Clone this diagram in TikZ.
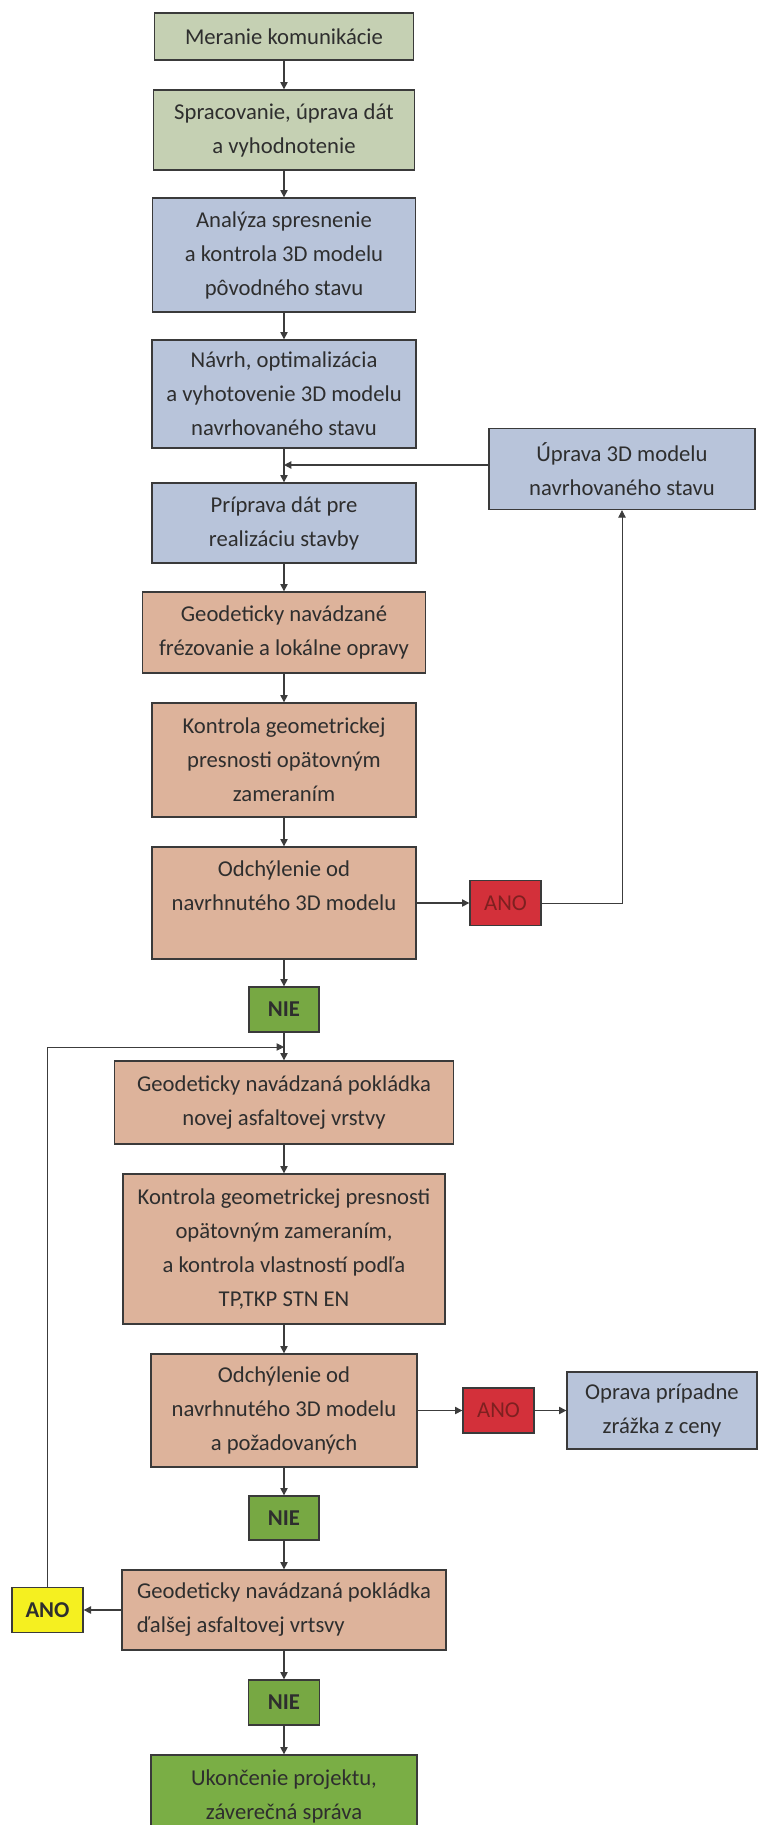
\documentclass[tikz,border=0pt]{standalone}
\usepackage{fontspec}
\setmainfont{Carlito}
\usetikzlibrary{arrows.meta}
\definecolor{sage}{HTML}{C5D0B3}
\definecolor{blu}{HTML}{B8C4DA}
\definecolor{sal}{HTML}{DDB39B}
\definecolor{redb}{HTML}{D3303A}
\definecolor{nieg}{HTML}{77A843}
\definecolor{yel}{HTML}{F5F020}
\definecolor{endg}{HTML}{7AAE45}
\definecolor{edge}{HTML}{3A3A3A}
\definecolor{lin}{HTML}{3C3C3C}
\definecolor{txt}{HTML}{2E2E2E}
\definecolor{anotxt}{HTML}{7E2020}
\begin{document}
\begin{tikzpicture}[x=0.75pt,y=-0.75pt,
  box/.style={draw=edge, line width=1pt, align=center, inner sep=0pt, text=txt,
    font=\fontsize{17}{25.5}\selectfont},
  sz/.style 2 args={minimum width=#1*0.75pt, minimum height=#2*0.75pt},
  arr/.style={draw=lin, line width=0.9pt, -{Triangle[length=5.5pt,width=5.5pt]}},
  ln/.style={draw=lin, line width=0.9pt},
  fb/.style={draw=lin, line width=0.6pt, -{Triangle[length=5.5pt,width=5.5pt]}}]
\clip (0,0) rectangle (761,1825);
\fill[white] (0,0) rectangle (761,1825);

\node[box, fill=sage, sz={259}{47}] (b1) at (284,36.5) {Meranie komunikácie};
\node[box, fill=sage, sz={261}{80}] (b2) at (284,130) {Spracovanie, úprava dát\\a vyhodnotenie};
\node[box, fill=blu, sz={263}{114}] (b3) at (284,255) {Analýza spresnenie\\a kontrola 3D modelu\\pôvodného stavu};
\node[box, fill=blu, sz={264}{108}] (b4) at (284,394) {Návrh, optimalizácia\\a vyhotovenie 3D modelu\\navrhovaného stavu};
\coordinate (j1) at (284,465);
\node[box, fill=blu, sz={264}{80}] (b5) at (284,523) {Príprava dát pre\\realizáciu stavby};
\node[box, fill=blu, sz={266}{81}] (upr) at (622,469) {Úprava 3D modelu\\navrhovaného stavu};
\node[box, fill=sal, sz={283}{81}] (b6) at (284,632.5) {Geodeticky navádzané\\frézovanie a lokálne opravy};
\node[box, fill=sal, sz={264}{114}] (b7) at (284,760) {Kontrola geometrickej\\presnosti opätovným\\zameraním};
\node[box, fill=sal, sz={264}{112}] (b8) at (284,903) {Odchýlenie od\\navrhnutého 3D modelu\\\mbox{}};
\node[box, fill=redb, sz={71}{45}, text=anotxt] (ano1) at (505.5,903) {ANO};
\node[box, fill=nieg, sz={70}{45}, font=\fontsize{17}{25.5}\selectfont\bfseries] (nie1) at (284,1009.5) {NIE};
\coordinate (j2) at (284,1047);
\node[box, fill=sal, sz={339}{83}] (b9) at (284,1102.5) {Geodeticky navádzaná pokládka\\novej asfaltovej vrstvy};
\node[box, fill=sal, sz={322}{150}] (b10) at (284,1249) {Kontrola geometrickej presnosti\\opätovným zameraním,\\a kontrola vlastností podľa\\TP,TKP STN EN};
\node[box, fill=sal, sz={266}{113}] (b11) at (284,1410.5) {Odchýlenie od\\navrhnutého 3D modelu\\a požadovaných};
\node[box, fill=redb, sz={71}{45}, text=anotxt] (ano2) at (498.5,1410.5) {ANO};
\node[box, fill=blu, sz={190}{77}] (opr) at (662,1410.5) {Oprava prípadne\\zrážka z ceny};
\node[box, fill=nieg, sz={70}{44}, font=\fontsize{17}{25.5}\selectfont\bfseries] (nie2) at (284,1518) {NIE};
\node[box, fill=sal, sz={324}{80}, align=left] (b12) at (284,1610) {Geodeticky navádzaná pokládka\\ďalšej asfaltovej vrtsvy};
\node[box, fill=yel, sz={71}{45}, font=\fontsize{17}{25.5}\selectfont\bfseries] (ano3) at (47.5,1610) {ANO};
\node[box, fill=nieg, sz={71}{45}, font=\fontsize{17}{25.5}\selectfont\bfseries] (nie3) at (284,1702.5) {NIE};
\node[box, fill=endg, sz={266}{83}] (b13) at (284,1796.5) {Ukončenie projektu,\\záverečná správa};

\draw[arr] (b1) -- (b2);
\draw[arr] (b2) -- (b3);
\draw[arr] (b3) -- (b4);
\draw[ln] (b4) -- (j1);
\draw[arr] (j1) -- (b5);
\draw[arr] (j1 -| upr.west) -- (j1);
\draw[arr] (b5) -- (b6);
\draw[arr] (b6) -- (b7);
\draw[arr] (b7) -- (b8);
\draw[arr] (b8) -- (ano1);
\draw[fb] (ano1.east) -| (upr.south);
\draw[arr] (b8) -- (nie1);
\draw[ln] (nie1) -- (j2);
\draw[arr] (j2) -- (b9);
\draw[fb] (ano3.north) |- (j2);
\draw[arr] (b9) -- (b10);
\draw[arr] (b10) -- (b11);
\draw[arr] (b11) -- (ano2);
\draw[arr] (ano2) -- (opr);
\draw[arr] (b11) -- (nie2);
\draw[arr] (nie2) -- (b12);
\draw[arr] (b12) -- (ano3);
\draw[arr] (b12) -- (nie3);
\draw[arr] (nie3) -- (b13);
\end{tikzpicture}
\end{document}
